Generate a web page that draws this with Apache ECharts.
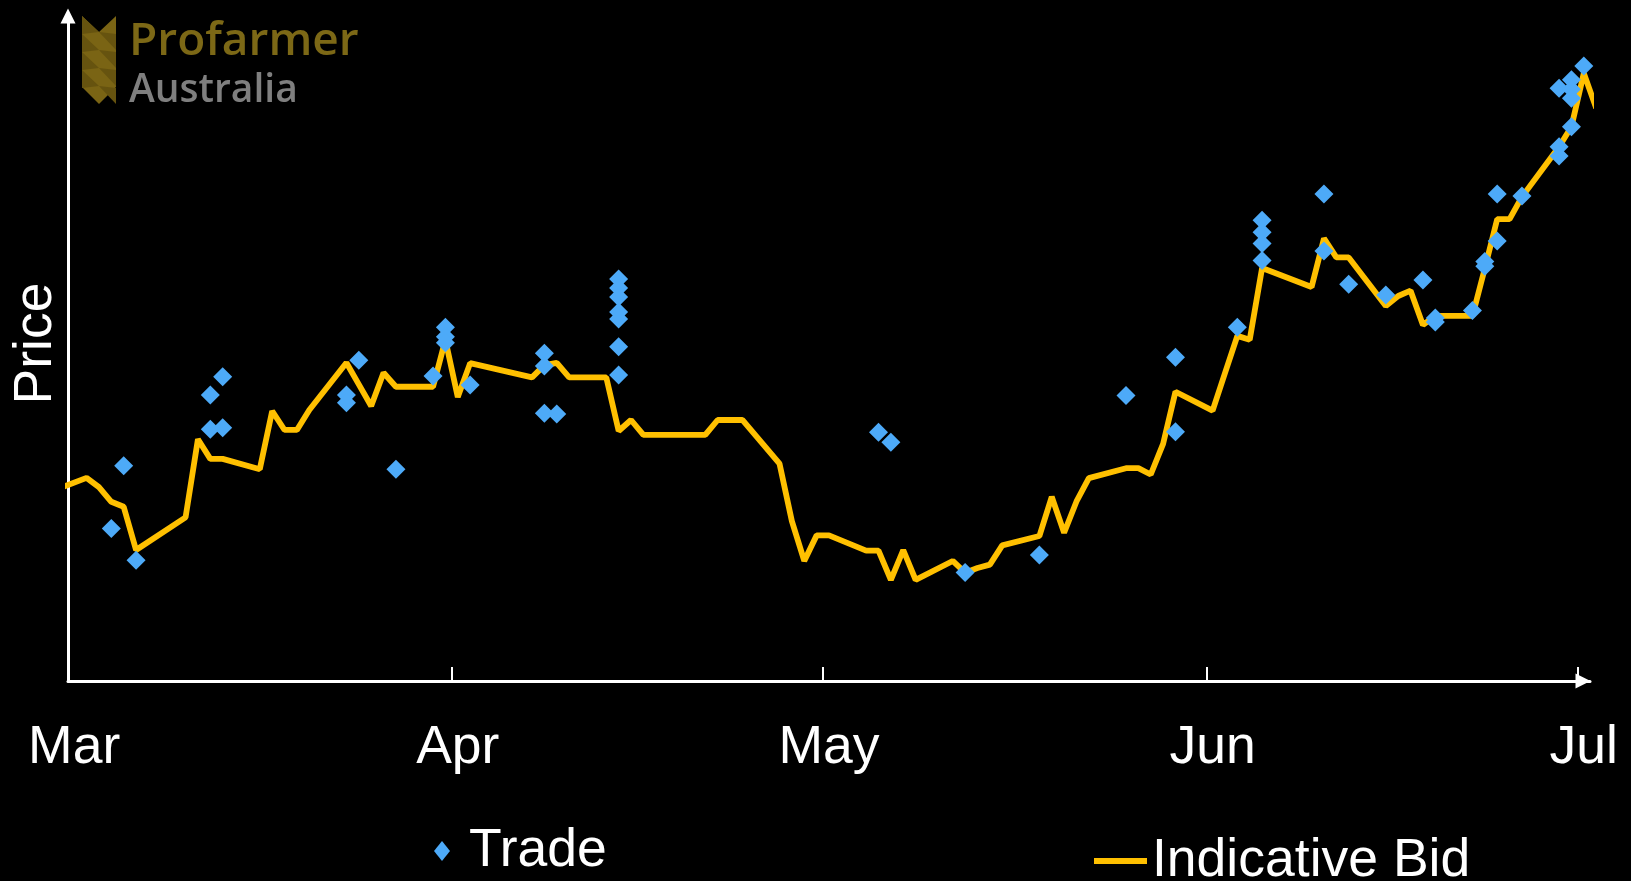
<!DOCTYPE html>
<html>
<head>
<meta charset="utf-8">
<script src="https://cdn.jsdelivr.net/npm/echarts@6/dist/echarts.min.js"></script>
<style>
html,body{margin:0;padding:0;background:#000;}
#chart{width:1631px;height:881px;}
</style>
</head>
<body>
<div id="chart"></div>
<script>
// ---------------- DATA ----------------
// Indicative bid (trading days, 2015)
const bidDates = [
  '2015-02-27',
  '2015-03-02','2015-03-03','2015-03-04','2015-03-05','2015-03-06',
  '2015-03-10','2015-03-11','2015-03-12','2015-03-13',
  '2015-03-16','2015-03-17','2015-03-18','2015-03-19','2015-03-20',
  '2015-03-23','2015-03-24','2015-03-25','2015-03-26','2015-03-27',
  '2015-03-30','2015-03-31','2015-04-01','2015-04-02',
  '2015-04-07','2015-04-08','2015-04-09','2015-04-10',
  '2015-04-13','2015-04-14','2015-04-15','2015-04-16','2015-04-17',
  '2015-04-20','2015-04-21','2015-04-22','2015-04-23','2015-04-24',
  '2015-04-27','2015-04-28','2015-04-29','2015-04-30','2015-05-01',
  '2015-05-04','2015-05-05','2015-05-06','2015-05-07','2015-05-08',
  '2015-05-11','2015-05-12','2015-05-13','2015-05-14','2015-05-15',
  '2015-05-18','2015-05-19','2015-05-20','2015-05-21','2015-05-22',
  '2015-05-25','2015-05-26','2015-05-27','2015-05-28','2015-05-29',
  '2015-06-01','2015-06-02','2015-06-03','2015-06-04','2015-06-05',
  '2015-06-09','2015-06-10','2015-06-11','2015-06-12',
  '2015-06-15','2015-06-16','2015-06-17','2015-06-18','2015-06-19',
  '2015-06-22','2015-06-23','2015-06-24','2015-06-25','2015-06-26',
  '2015-06-29','2015-06-30','2015-07-01','2015-07-02'
];
const bidValues = [
  306.8,
  311.1,308.3,303.9,302.4,289.4,
  299.2,322.7,316.8,316.8,
  313.7,331.2,325.5,325.5,331.5,
  345.7,339.2,332.7,342.7,338.5,
  338.5,352.6,335.4,345.6,
  341.3,345.0,345.7,341.3,
  341.3,325.2,328.5,324.0,324.0,
  324.0,324.0,328.5,328.5,328.5,
  315.4,298.1,286.1,293.8,293.8,
  289.2,289.2,280.4,289.4,280.4,
  286.1,282.6,284.0,285.0,290.8,
  293.6,305.4,294.6,304.0,311.0,
  314.0,314.0,312.1,321.3,337.0,
  331.3,342.6,353.8,352.6,374.2,
  368.5,383.1,377.4,377.4,
  362.8,365.8,367.4,357.1,359.8,
  359.8,374.1,388.9,388.9,395.6,
  410.7,416.7,432.8,422.3
];
// Individual trades
const tradeDates = [
  '2015-03-04','2015-03-05','2015-03-06',
  '2015-03-12','2015-03-12','2015-03-13','2015-03-13',
  '2015-03-23','2015-03-23','2015-03-24','2015-03-27',
  '2015-03-30','2015-03-31','2015-03-31','2015-03-31','2015-04-02',
  '2015-04-08','2015-04-08','2015-04-08','2015-04-09',
  '2015-04-14','2015-04-14','2015-04-14','2015-04-14','2015-04-14','2015-04-14','2015-04-14',
  '2015-05-05','2015-05-06','2015-05-12','2015-05-18',
  '2015-05-25','2015-05-29','2015-05-29',
  '2015-06-03','2015-06-05','2015-06-05','2015-06-05','2015-06-05',
  '2015-06-10','2015-06-10','2015-06-12','2015-06-15','2015-06-18',
  '2015-06-19','2015-06-19','2015-06-22','2015-06-23','2015-06-23',
  '2015-06-24','2015-06-24','2015-06-26',
  '2015-06-29','2015-06-29','2015-06-29',
  '2015-06-30','2015-06-30','2015-06-30','2015-06-30',
  '2015-07-01'
];
const tradeValues = [
  295.9,314.7,286.3,
  336.0,325.7,341.5,326.2,
  336.0,333.7,346.5,313.7,
  341.7,356.4,353.5,351.7,339.0,
  348.6,344.7,330.5,330.3,
  370.9,368.2,365.5,361.0,358.9,350.5,342.0,
  324.8,321.8,282.6,287.9,
  335.9,347.4,325.0,
  356.4,388.6,385.0,381.6,376.5,
  396.5,379.3,369.3,366.1,370.6,
  359.2,358.0,361.4,376.2,374.7,
  396.5,382.3,395.9,
  428.3,410.7,407.9,
  430.8,428.0,425.3,416.7,
  435.0
];
// Axis: month boundaries and labels
const monthStarts = ['2015-03-01','2015-04-01','2015-05-01','2015-06-01','2015-07-01'];
const monthLabels = ['Mar','Apr','May','Jun','Jul'];
const axisEnd = '2015-07-02';
const priceMin = 250, priceMax = 450;

// ---------------- BUILD ----------------
const DAY = 86400000;
function ts(s){ const p = s.split('-').map(Number); return Date.UTC(p[0], p[1]-1, p[2]); }
const midDay = s => ts(s) + DAY/2;   // points sit in the middle of their day slot
const bidData = bidDates.map((d,i)=>[midDay(d), bidValues[i]]);
const tradeData = tradeDates.map((d,i)=>[midDay(d), tradeValues[i]]);
const labelVals = monthStarts.map(midDay);
const labelMap = {}; labelVals.forEach((v,i)=>labelMap[v]=monthLabels[i]);
const tickVals = monthStarts.slice(1).map(ts);

const FONT = "'Liberation Sans', Arial, sans-serif";
const FS = 53.5;
const chart = echarts.init(document.getElementById('chart'));

// logo chevron pattern
const logoEls = [];
const lx0 = 82, lx1 = 116, lxm = 99, ly0 = 16;
logoEls.push({type:'polygon', shape:{points:[[lx0,ly0],[lxm,ly0+16],[lx1,ly0],[lx1,87],[lxm,104],[lx0,87]]}, style:{fill:'#7a6414'}, silent:true});
for (let k=0;k<4;k++){
  const y = ly0 + k*18;
  logoEls.push({type:'polygon', shape:{points:[[lx0,y],[lxm,y+16],[lx0,y+18]]}, style:{fill:'#66530f'}, silent:true});
  logoEls.push({type:'polygon', shape:{points:[[lx1,y+18],[lxm,y+16],[lx1,y+34]]}, style:{fill:'#66530f'}, silent:true});
}
logoEls.push({type:'text', style:{text:'Profarmer', x:129, y:19, font:"600 46px 'Open Sans', 'Noto Sans', sans-serif", fill:'#7c6816', verticalAlign:'top'}, silent:true});
logoEls.push({type:'text', style:{text:'Australia', x:129, y:71, font:"600 39px 'Open Sans', 'Noto Sans', sans-serif", fill:'#7f7f7f', verticalAlign:'top'}, silent:true});

chart.setOption({
  backgroundColor:'#000',
  animation:false,
  grid:{left:68, right:41, top:16, bottom:200, containLabel:false},
  xAxis:{
    type:'value',
    min: ts(monthStarts[0]),
    max: ts(axisEnd),
    axisLine:{show:true, onZero:false, lineStyle:{color:'#fff', width:3}, symbol:['none','triangle'], symbolSize:[15,15], symbolOffset:[0,-7]},
    axisTick:{show:true, inside:true, length:14, lineStyle:{color:'#fff', width:2}, customValues: tickVals},
    axisLabel:{show:true, customValues: labelVals, formatter: v => labelMap[v] || '', color:'#fff', fontSize:FS, fontFamily:FONT, margin:40, lineHeight:FS},
    splitLine:{show:false}
  },
  yAxis:{
    type:'value',
    min: priceMin, max: priceMax,
    name:'Price', nameLocation:'middle', nameRotate:90, nameGap:5,
    nameTextStyle:{color:'#fff', fontSize:FS, fontFamily:FONT, lineHeight:FS, padding:[0,0,0,10]},
    axisLine:{show:true, onZero:false, lineStyle:{color:'#fff', width:3}, symbol:['none','triangle'], symbolSize:[15,15], symbolOffset:[0,0]},
    axisTick:{show:false}, axisLabel:{show:false}, splitLine:{show:false}
  },
  legend:[
    {data:[{name:'Trade', icon:'diamond'}], left:434, top:824, padding:0, itemWidth:16, itemHeight:20, symbolKeepAspect:false, selectedMode:false,
     textStyle:{color:'#fff', fontSize:FS, fontFamily:FONT, lineHeight:FS, padding:[0,0,0,14]}},
    {data:[{name:'Indicative Bid', icon:'rect'}], left:1094, top:834, padding:0, itemWidth:53, itemHeight:6, selectedMode:false,
     textStyle:{color:'#fff', fontSize:FS, fontFamily:FONT, lineHeight:FS}}
  ],
  graphic: logoEls,
  series:[
    {name:'Indicative Bid', type:'line', data:bidData, showSymbol:false, symbol:'none', clip:true,
     lineStyle:{color:'#FFC000', width:5.8}, itemStyle:{color:'#FFC000'}, z:2},
    {name:'Trade', type:'scatter', data:tradeData, symbol:'diamond', symbolSize:19,
     itemStyle:{color:'#4DAAF8', opacity:1}, z:3}
  ]
});
</script>
</body>
</html>
